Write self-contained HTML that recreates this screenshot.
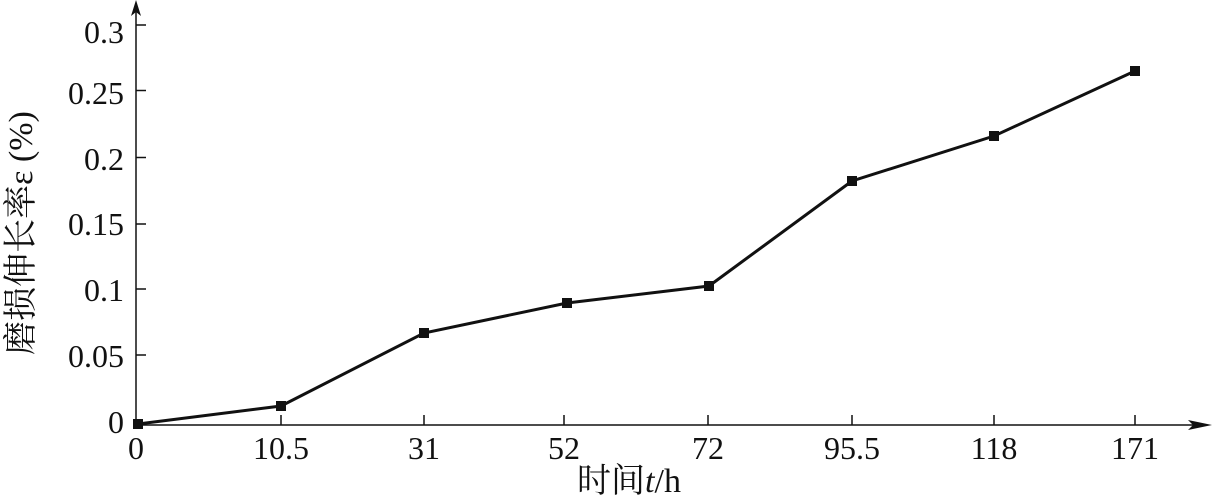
<!DOCTYPE html>
<html><head><meta charset="utf-8"><style>
body{margin:0;background:#fff;}
svg text{font-family:"Liberation Serif","Noto Serif CJK SC",serif;fill:#111;}
</style></head><body>
<svg width="1214" height="497" viewBox="0 0 1214 497" xmlns="http://www.w3.org/2000/svg">
<g stroke="#111" stroke-width="1.5" fill="none">
<line x1="136" y1="425" x2="136" y2="4"/>
<line x1="136" y1="425" x2="1205" y2="425"/>
<line x1="136" y1="25" x2="146" y2="25"/>
<line x1="136" y1="90.5" x2="146" y2="90.5"/>
<line x1="136" y1="157.5" x2="146" y2="157.5"/>
<line x1="136" y1="224" x2="146" y2="224"/>
<line x1="136" y1="289" x2="146" y2="289"/>
<line x1="136" y1="355" x2="146" y2="355"/>
<line x1="281" y1="425" x2="281" y2="415"/>
<line x1="424" y1="425" x2="424" y2="415"/>
<line x1="564" y1="425" x2="564" y2="415"/>
<line x1="708" y1="425" x2="708" y2="415"/>
<line x1="852" y1="425" x2="852" y2="415"/>
<line x1="994" y1="425" x2="994" y2="415"/>
<line x1="1135" y1="425" x2="1135" y2="415"/>
</g>
<polygon points="136,0 131,16 136,12 141,16" fill="#111"/>
<polygon points="1212,425 1188,420 1193,425 1188,430" fill="#111"/>
<polyline points="138,424 281,406 424,333 567,303 709,286 852,181 994,136 1135,71" fill="none" stroke="#111" stroke-width="3"/>
<g fill="#111">
<rect x="133" y="419" width="10" height="10"/>
<rect x="276" y="401" width="10" height="10"/>
<rect x="419" y="328" width="10" height="10"/>
<rect x="562" y="298" width="10" height="10"/>
<rect x="704" y="281" width="10" height="10"/>
<rect x="847" y="176" width="10" height="10"/>
<rect x="989" y="131" width="10" height="10"/>
<rect x="1130" y="66" width="10" height="10"/>
</g>
<g font-size="32" text-anchor="end">
<text x="124" y="43">0.3</text>
<text x="124" y="104">0.25</text>
<text x="124" y="170">0.2</text>
<text x="124" y="235">0.15</text>
<text x="124" y="301">0.1</text>
<text x="124" y="367">0.05</text>
<text x="124" y="433">0</text>
</g>
<g font-size="32" text-anchor="middle">
<text x="136" y="459">0</text>
<text x="281" y="459">10.5</text>
<text x="424" y="459">31</text>
<text x="564" y="459">52</text>
<text x="708" y="459">72</text>
<text x="852" y="459">95.5</text>
<text x="994" y="459">118</text>
<text x="1135" y="459">171</text>
</g>
<g font-size="34" text-anchor="middle">
<text x="629" y="492">时间<tspan font-style="italic">t</tspan>/h</text>
<text transform="translate(32,233) rotate(-90)">磨损伸长率ε (%)</text>
</g>
</svg>
</body></html>
